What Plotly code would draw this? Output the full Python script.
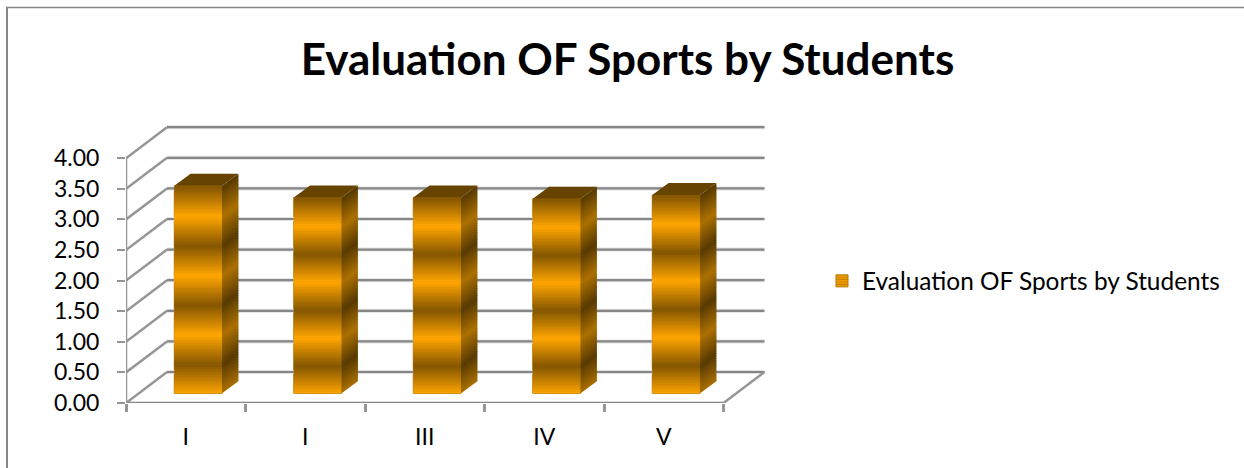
import plotly.graph_objects as go

# valores
categories = ["I", "I", "III", "IV", "V"]
values = [3.39, 3.20, 3.20, 3.18, 3.24]
y_ticks = [0, 0.5, 1, 1.5, 2, 2.5, 3, 3.5, 4]
series_name = "Evaluation OF Sports by Students"

FONT = "Lato, 'Open Sans', sans-serif"
GREY = "#868686"
W, H = 1244, 468
L, T, R, B = 126, 121, 469, 65      # margenes del area de trazado
X_UNIT, Y_UNIT = 119.5, 61.2        # px por categoria / px por unidad
WALL_DX, WALL_DY = 41 / X_UNIT, 31 / Y_UNIT   # desplazamiento oblicuo de la pared
BAR_W = 0.4
BAR_CENTER = 0.604
BAR_BASE = 0.158                    # la barra arranca a media profundidad del suelo
BAR_DX, BAR_DY = 16.3 / X_UNIT, 12 / Y_UNIT
CYCLES = 3.5
BANDS = 84


def _mix(c1, c2, f):
    return "rgb(%d,%d,%d)" % tuple(round(a + (b - a) * f) for a, b in zip(c1, c2))


def _shade(k, bright, dark):
    # degradado repetido: claro abajo, oscuro arriba
    t = ((k + 0.5) / BANDS * CYCLES) % 1
    return _mix(bright, dark, 1 - abs(2 * t - 1))


fig = go.Figure()

# lineas de paredes y suelo
n_cat = len(categories)
gx, gy = [], []
for v in y_ticks:
    gx += [WALL_DX, n_cat + WALL_DX, None]
    gy += [v + WALL_DY, v + WALL_DY, None]
gx += [0, n_cat]
gy += [0, 0]
fig.add_trace(go.Scatter(x=gx, y=gy, mode="lines", cliponaxis=False,
                         line=dict(color="#E2E2E2", width=4), hoverinfo="skip", showlegend=False))
fig.add_trace(go.Scatter(x=gx, y=gy, mode="lines", cliponaxis=False,
                         line=dict(color=GREY, width=2.2), hoverinfo="skip", showlegend=False))
dx, dy = [], []
for v in y_ticks:
    dx += [0, WALL_DX, None]
    dy += [v, v + WALL_DY, None]
dx += [0, 0, None, n_cat, n_cat + WALL_DX]
dy += [0, max(y_ticks), None, 0, WALL_DY]
fig.add_trace(go.Scatter(x=dx, y=dy, mode="lines", cliponaxis=False,
                         line=dict(color="#969696", width=2.5), hoverinfo="skip", showlegend=False))

# serie real (debajo del degradado, da la entrada de la leyenda)
fig.add_trace(go.Bar(
    x=[i + BAR_CENTER for i in range(n_cat)], y=values, base=BAR_BASE, width=BAR_W,
    name=series_name,
    marker=dict(color="#C98300", line=dict(width=1, color="#B87A00"),
                pattern=dict(shape="-", size=3, solidity=0.5,
                             fgcolor="#8A5A00", bgcolor="#FFA500")),
))

# caras frontal y lateral por franjas
for k in range(BANDS):
    fx, fy, sx, sy = [], [], [], []
    for i, v in enumerate(values):
        left = i + BAR_CENTER - BAR_W / 2
        right = left + BAR_W
        y0 = BAR_BASE + v * max(k - 0.4, 0) / BANDS
        y1 = BAR_BASE + v * (k + 1) / BANDS
        fx += [left, right, right, left, left, None]
        fy += [y0, y0, y1, y1, y0, None]
        sx += [right, right + BAR_DX, right + BAR_DX, right, right, None]
        sy += [y0, y0 + BAR_DY, y1 + BAR_DY, y1, y0, None]
    fig.add_trace(go.Scatter(x=fx, y=fy, mode="none", fill="toself",
                             fillcolor=_shade(k, (255, 165, 0), (132, 86, 0)),
                             hoverinfo="skip", showlegend=False))
    fig.add_trace(go.Scatter(x=sx, y=sy, mode="none", fill="toself",
                             fillcolor=_shade(k, (172, 112, 0), (88, 58, 0)),
                             hoverinfo="skip", showlegend=False))

# cara superior
tx, ty = [], []
for i, v in enumerate(values):
    left = i + BAR_CENTER - BAR_W / 2
    top = BAR_BASE + v
    tx += [left, left + BAR_W, left + BAR_W + BAR_DX, left + BAR_DX, left, None]
    ty += [top, top, top + BAR_DY, top + BAR_DY, top, None]
fig.add_trace(go.Scatter(x=tx, y=ty, mode="none", fill="toself", fillcolor="#664400",
                         hoverinfo="skip", showlegend=False))

plot_w = W - L - R
plot_h = H - T - B
fig.update_xaxes(
    range=[0, plot_w / X_UNIT], showgrid=False, zeroline=False, showline=False,
    tickmode="array", tickvals=[i + 0.5 for i in range(n_cat)], ticktext=categories,
    ticks="", ticklabelstandoff=18, tickfont=dict(family=FONT, size=23, color="#000000"),
    minor=dict(tickmode="array", tickvals=list(range(n_cat + 1)), ticks="outside",
               ticklen=8, tickwidth=2.5, tickcolor="#969696", showgrid=False),
)
fig.update_yaxes(
    range=[0, plot_h / Y_UNIT], showgrid=False, zeroline=False, showline=False,
    tickmode="array", tickvals=y_ticks, tickformat=".2f", ticks="outside",
    ticklen=8, tickwidth=2, tickcolor="#969696", ticklabelstandoff=13,
    tickfont=dict(family=FONT, size=23, color="#000000"),
)

# marco del grafico (solo izquierda y arriba se ven)
fig.add_shape(type="line", xref="paper", yref="paper",
              x0=(7 - L) / plot_w, x1=(7 - L) / plot_w,
              y0=(H - B - H) / plot_h, y1=(H - B - 7) / plot_h,
              line=dict(color=GREY, width=2))
fig.add_shape(type="line", xref="paper", yref="paper",
              x0=(6 - L) / plot_w, x1=(W - L) / plot_w,
              y0=(H - B - 7.5) / plot_h, y1=(H - B - 7.5) / plot_h,
              line=dict(color=GREY, width=1.5))

fig.update_layout(
    width=W, height=H, autosize=False,
    margin=dict(l=L, t=T, r=R, b=B, pad=0),
    paper_bgcolor="#FFFFFF", plot_bgcolor="#FFFFFF",
    barmode="overlay",
    title=dict(text="<b>%s</b>" % series_name, x=627.5 / W, xanchor="center",
               y=1 - 60 / H, yanchor="middle", xref="container", yref="container",
               font=dict(family=FONT, size=44, color="#000000")),
    legend=dict(x=822 / W, xref="container", y=1 - 281 / H, yref="container",
                yanchor="middle", xanchor="left", bgcolor="rgba(0,0,0,0)",
                font=dict(family=FONT, size=24.4, color="#000000")),
    showlegend=True,
)

fig.write_html("out.html", config={"displayModeBar": False},
               post_script="document.body.style.margin='0';")
